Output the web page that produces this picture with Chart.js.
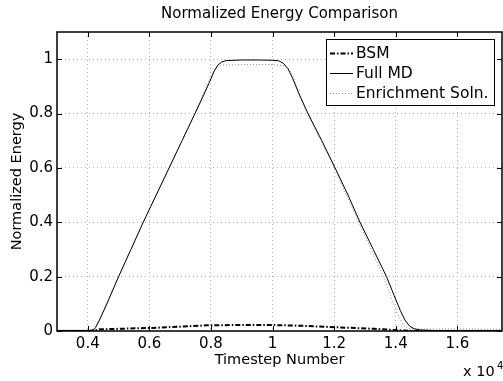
<!DOCTYPE html>
<html>
<head>
<meta charset="utf-8">
<script src="https://cdn.jsdelivr.net/npm/chart.js@4/dist/chart.umd.min.js"></script>
<style>
html,body{margin:0;padding:0;background:#fff;}
canvas{display:block;}
</style>
</head>
<body>
<canvas id="c" width="503" height="381"></canvas>
<script>
// Data (x in units of 10^4 timesteps)
const xTicks = [0.4, 0.6, 0.8, 1.0, 1.2, 1.4, 1.6];
const yTicks = [0, 0.2, 0.4, 0.6, 0.8, 1.0];
const seriesNames = ["BSM", "Full MD", "Enrichment Soln."];

const bsmX = [0.30, 0.40, 0.42, 0.44, 0.50, 0.56, 0.625, 0.70, 0.787, 0.90, 1.00, 1.10, 1.20, 1.33, 1.39, 1.43, 1.46, 1.50, 1.75];
const bsmY = [0.000, 0.000, 0.002, 0.006, 0.008, 0.010, 0.012, 0.016, 0.021, 0.022, 0.022, 0.019, 0.014, 0.008, 0.004, 0.002, 0.000, 0.000, 0.000];

const fullMdX = [0.30, 0.41, 0.418, 0.425, 0.44, 0.46, 0.50, 0.54, 0.58, 0.622, 0.664, 0.706, 0.748, 0.775, 0.795, 0.81, 0.822, 0.835, 0.85, 0.90, 0.95, 1.00, 1.02, 1.035, 1.05, 1.065, 1.085, 1.115, 1.16, 1.203, 1.245, 1.284, 1.327, 1.37, 1.395, 1.415, 1.43, 1.445, 1.46, 1.48, 1.52, 1.60, 1.75];
const fullMdY = [0.002, 0.002, 0.004, 0.012, 0.045, 0.095, 0.200, 0.300, 0.400, 0.500, 0.600, 0.700, 0.800, 0.865, 0.915, 0.955, 0.978, 0.990, 0.995, 0.997, 0.997, 0.996, 0.994, 0.985, 0.965, 0.930, 0.875, 0.800, 0.700, 0.600, 0.500, 0.400, 0.300, 0.200, 0.130, 0.075, 0.040, 0.018, 0.008, 0.004, 0.002, 0.002, 0.002];

const enrichX = [0.30, 0.41, 0.42, 0.44, 0.50, 0.58, 0.664, 0.748, 0.785, 0.805, 0.82, 0.84, 0.90, 1.00, 1.04, 1.055, 1.07, 1.10, 1.20, 1.28, 1.36, 1.385, 1.405, 1.42, 1.435, 1.45, 1.50, 1.60, 1.75];
const enrichY = [0.003, 0.003, 0.010, 0.050, 0.200, 0.400, 0.600, 0.800, 0.900, 0.950, 0.972, 0.978, 0.980, 0.980, 0.975, 0.960, 0.925, 0.830, 0.600, 0.400, 0.200, 0.125, 0.065, 0.030, 0.013, 0.008, 0.007, 0.008, 0.006];

const toPts = (xs, ys) => xs.map((x, i) => ({x: x, y: ys[i]}));

const FONT = "'DejaVu Sans', sans-serif";

const styles = [
  {color: '#000', width: 2, dash: [5, 2, 1.5, 2]},
  {color: '#000', width: 1, dash: []},
  {color: '#8a8a8a', width: 1, dash: [1, 2]}
];

const decor = {
  id: 'decor',
  afterDraw(chart) {
    const ctx = chart.ctx;
    const a = chart.chartArea;
    const xs = chart.scales.x, ys = chart.scales.y;
    ctx.save();
    // frame
    ctx.strokeStyle = '#000';
    ctx.lineWidth = 1.5;
    ctx.strokeRect(a.left, a.top, a.right - a.left, a.bottom - a.top);
    // inward ticks
    ctx.lineWidth = 1;
    ctx.beginPath();
    xTicks.forEach(v => {
      const p = Math.round(xs.getPixelForValue(v)) + 0.5;
      ctx.moveTo(p, a.bottom); ctx.lineTo(p, a.bottom - 5);
      ctx.moveTo(p, a.top); ctx.lineTo(p, a.top + 5);
    });
    yTicks.forEach(v => {
      const p = Math.round(ys.getPixelForValue(v)) + 0.5;
      ctx.moveTo(a.left, p); ctx.lineTo(a.left + 5, p);
      ctx.moveTo(a.right, p); ctx.lineTo(a.right - 5, p);
    });
    ctx.stroke();

    // texts
    ctx.fillStyle = '#000';
    ctx.textAlign = 'center';
    ctx.textBaseline = 'alphabetic';
    ctx.font = '15px ' + FONT;
    ctx.fillText('Normalized Energy Comparison', (a.left + a.right) / 2, 18);
    ctx.font = '14.5px ' + FONT;
    ctx.fillText('Timestep Number', (a.left + a.right) / 2, 364);
    ctx.textAlign = 'left';
    ctx.fillText('x 10', 463, 376);
    ctx.font = '10px ' + FONT;
    ctx.fillText('4', 497, 369);
    ctx.save();
    ctx.translate(17, (a.top + a.bottom) / 2);
    ctx.rotate(-Math.PI / 2);
    ctx.textAlign = 'center';
    ctx.textBaseline = 'middle';
    ctx.font = '14.5px ' + FONT;
    ctx.fillText('Normalized Energy', 0, 0);
    ctx.restore();

    // legend
    const lx = 326.5, ly = 39.5, lw = 168, lh = 66;
    ctx.fillStyle = '#fff';
    ctx.fillRect(lx, ly, lw, lh);
    ctx.strokeStyle = '#000';
    ctx.lineWidth = 1;
    ctx.strokeRect(lx, ly, lw, lh);
    const rows = [53, 73, 93];
    seriesNames.forEach((name, i) => {
      const s = styles[i];
      ctx.save();
      ctx.strokeStyle = s.color;
      ctx.lineWidth = s.width;
      ctx.setLineDash(s.dash);
      ctx.beginPath();
      ctx.moveTo(330, rows[i] + 0.5);
      ctx.lineTo(353, rows[i] + 0.5);
      ctx.stroke();
      ctx.restore();
      ctx.fillStyle = '#000';
      ctx.font = '15.5px ' + FONT;
      ctx.textAlign = 'left';
      ctx.textBaseline = 'middle';
      ctx.fillText(name, 356, rows[i] + 1);
    });
    ctx.restore();
  }
};

const seriesX = [bsmX, fullMdX, enrichX];
const seriesY = [bsmY, fullMdY, enrichY];

new Chart(document.getElementById('c'), {
  type: 'line',
  data: {
    datasets: seriesNames.map((name, i) => ({
      label: name,
      data: toPts(seriesX[i], seriesY[i]),
      borderColor: styles[i].color,
      borderWidth: styles[i].width,
      borderDash: styles[i].dash,
      pointRadius: 0,
      fill: false,
      tension: 0
    }))
  },
  options: {
    responsive: false,
    animation: false,
    devicePixelRatio: 1,
    layout: {padding: {top: 32, right: 1, left: 0, bottom: 0}},
    plugins: {legend: {display: false}, title: {display: false}, tooltip: {enabled: false}},
    scales: {
      x: {
        type: 'linear',
        min: 0.3, max: 1.745,
        afterFit(s) { s.height = 50; },
        afterBuildTicks(s) { s.ticks = xTicks.map(v => ({value: v})); },
        grid: {color: '#b0b0b0', lineWidth: 1, drawTicks: false},
        border: {display: false, dash: [1, 3]},
        ticks: {
          color: '#000', padding: 4, maxRotation: 0, autoSkip: false,
          font: {family: FONT, size: 15},
          callback: v => String(parseFloat(v.toFixed(1)))
        }
      },
      y: {
        type: 'linear',
        min: 0, max: 1.1,
        afterFit(s) { s.width = 57; },
        afterBuildTicks(s) { s.ticks = yTicks.map(v => ({value: v})); },
        grid: {color: '#b0b0b0', lineWidth: 1, drawTicks: false},
        border: {display: false, dash: [1, 3]},
        ticks: {
          color: '#000', padding: 4, autoSkip: false,
          font: {family: FONT, size: 15},
          callback: v => String(parseFloat(v.toFixed(1)))
        }
      }
    }
  },
  plugins: [decor]
});
</script>
</body>
</html>
